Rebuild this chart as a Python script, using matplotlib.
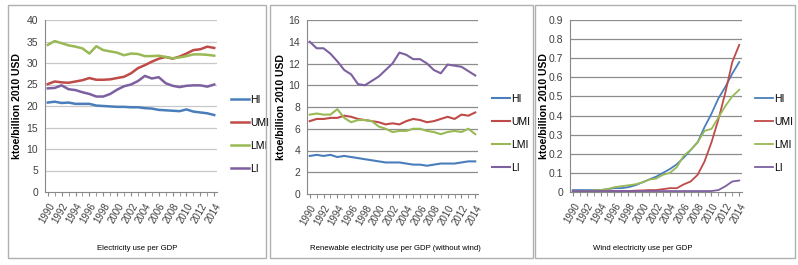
import matplotlib
matplotlib.use("Agg")
import matplotlib.pyplot as plt
from matplotlib.patches import Rectangle

plt.rcParams['font.family'] = ['Liberation Sans Narrow', 'Liberation Sans', 'DejaVu Sans']

years = list(range(1990, 2015))
labels = ["HI", "UMI", "LMI", "LI"]
colors = ["#4a7ebb", "#be4b48", "#98b954", "#7d60a0"]

# electricity use per GDP
elec_hi = [20.8, 21.0, 20.7, 20.8, 20.5, 20.5, 20.5, 20.1, 20.0, 19.9, 19.8, 19.8, 19.7, 19.7,
           19.5, 19.4, 19.1, 19.0, 18.9, 18.8, 19.2, 18.7, 18.5, 18.3, 17.9]
elec_umi = [25.1, 25.7, 25.5, 25.4, 25.7, 26.0, 26.5, 26.1, 26.1, 26.2, 26.5, 26.8, 27.6, 28.8,
            29.5, 30.3, 31.0, 31.4, 31.0, 31.5, 32.2, 33.0, 33.2, 33.8, 33.5]
elec_lmi = [34.2, 35.1, 34.6, 34.1, 33.8, 33.4, 32.2, 33.9, 33.0, 32.7, 32.4, 31.8, 32.2, 32.1,
            31.6, 31.6, 31.7, 31.4, 31.1, 31.3, 31.6, 32.0, 32.0, 31.9, 31.7]
elec_li = [24.1, 24.2, 24.8, 23.9, 23.7, 23.2, 22.8, 22.2, 22.2, 22.8, 23.8, 24.6, 25.0, 25.8,
           27.0, 26.4, 26.7, 25.3, 24.7, 24.4, 24.7, 24.8, 24.8, 24.5, 25.0]

# renewable electricity use per GDP (without wind)
ren_hi = [3.5, 3.6, 3.5, 3.6, 3.4, 3.5, 3.4, 3.3, 3.2, 3.1, 3.0, 2.9, 2.9, 2.9, 2.8, 2.7, 2.7,
          2.6, 2.7, 2.8, 2.8, 2.8, 2.9, 3.0, 3.0]
ren_umi = [6.7, 6.9, 6.9, 7.0, 7.0, 7.2, 7.1, 6.9, 6.8, 6.7, 6.6, 6.4, 6.5, 6.4, 6.7, 6.9, 6.8,
           6.6, 6.7, 6.9, 7.1, 6.9, 7.3, 7.2, 7.5]
ren_lmi = [7.3, 7.4, 7.3, 7.3, 7.8, 7.0, 6.6, 6.8, 6.8, 6.7, 6.2, 6.0, 5.7, 5.8, 5.8, 6.0, 6.0,
           5.8, 5.7, 5.5, 5.7, 5.8, 5.7, 6.0, 5.5]
ren_li = [14.0, 13.4, 13.4, 12.9, 12.2, 11.4, 11.0, 10.1, 10.0, 10.4, 10.8, 11.4, 12.0, 13.0,
          12.8, 12.4, 12.4, 12.0, 11.4, 11.1, 11.9, 11.8, 11.7, 11.3, 10.9]

# wind electricity use per GDP
wind_hi = [0.01, 0.01, 0.01, 0.01, 0.01, 0.015, 0.02, 0.02, 0.025, 0.035, 0.05, 0.065, 0.08,
           0.10, 0.12, 0.145, 0.18, 0.22, 0.26, 0.34, 0.41, 0.49, 0.55, 0.62, 0.68]
wind_umi = [0.005, 0.005, 0.005, 0.005, 0.005, 0.005, 0.005, 0.005, 0.005, 0.007, 0.008, 0.01,
            0.01, 0.015, 0.02, 0.02, 0.04, 0.055, 0.09, 0.16, 0.26, 0.38, 0.52, 0.68, 0.77]
wind_lmi = [0.005, 0.005, 0.005, 0.008, 0.01, 0.015, 0.025, 0.03, 0.035, 0.04, 0.05, 0.065,
            0.07, 0.09, 0.10, 0.13, 0.19, 0.22, 0.26, 0.32, 0.33, 0.39, 0.45, 0.50, 0.535]
wind_li = [0.005, 0.005, 0.005, 0.005, 0.005, 0.005, 0.005, 0.005, 0.005, 0.005, 0.005, 0.005,
           0.005, 0.005, 0.005, 0.005, 0.005, 0.005, 0.005, 0.005, 0.005, 0.01, 0.03, 0.055, 0.06]

W, H = 798, 265
fig = plt.figure(figsize=(W / 100, H / 100), dpi=100)


def px_axes(l, r, t, b):
    return fig.add_axes([l / W, 1 - b / H, (r - l) / W, (b - t) / H])


panels = [
    dict(box=(8, 266), ax=(45, 217, 20, 192), series=[elec_hi, elec_umi, elec_lmi, elec_li],
         ylim=(0, 40), step=5, fmt="{:.0f}", grid="#c8c8c8", lw=1.8,
         title="Electricity use per GDP", tx=137, leg=(1.081, 0.334), ylx=-0.134),
    dict(box=(270, 533), ax=(307, 478, 20, 194), series=[ren_hi, ren_umi, ren_lmi, ren_li],
         ylim=(0, 16), step=2, fmt="{:.0f}", grid="#8c8c8c", lw=1.5,
         title="Renewable electricity use per GDP (without wind)", tx=395, leg=(1.082, 0.35),
         ylx=-0.123),
    dict(box=(535, 795), ax=(570, 742, 20, 192), series=[wind_hi, wind_umi, wind_lmi, wind_li],
         ylim=(0, 0.9), step=0.1, fmt="{:g}", grid="#8c8c8c", lw=1.3,
         title="Wind electricity use per GDP", tx=643, leg=(1.076, 0.34), ylx=-0.122),
]

for p in panels:
    x0, x1 = p["box"]
    fig.patches.append(Rectangle((x0 / W, 1 - 258 / H), (x1 - x0) / W, 253 / H,
                                 transform=fig.transFigure, fill=False,
                                 edgecolor="#b0b0b0", linewidth=1.0))
    l, r, t, b = p["ax"]
    ax = px_axes(l, r, t, b)
    for s, c, lab in zip(p["series"], colors, labels):
        ax.plot(years, s, color=c, lw=p["lw"], label=lab)
    lo, hi = p["ylim"]
    ticks = [round(lo + i * p["step"], 3) for i in range(int(round((hi - lo) / p["step"])) + 1)]
    ax.set_ylim(lo, hi)
    ax.set_yticks(ticks)
    ax.set_yticklabels([p["fmt"].format(v) for v in ticks], fontsize=7.5, color="#404040")
    for v in ticks[1:]:
        ax.axhline(v, color=p["grid"], lw=0.9, zorder=0)
    ax.set_xlim(1989.6, 2014.4)
    ax.set_xticks(years, minor=True)
    ax.set_xticks(years[::2])
    ax.set_xticklabels([str(y) for y in years[::2]], rotation=60, fontsize=7,
                       color="#404040", ha="right", rotation_mode="anchor")
    ax.tick_params(axis="x", which="both", length=3, color="#888888", direction="out")
    ax.tick_params(axis="y", length=0, pad=5)
    for side in ["top", "right"]:
        ax.spines[side].set_visible(False)
    ax.spines["bottom"].set_color("#888888")
    ax.spines["left"].set_color("#888888")
    ax.set_ylabel("ktoe/billion 2010 USD", fontsize=7.5, fontweight="bold",
                  family=["Liberation Sans", "DejaVu Sans"])
    ax.yaxis.set_label_coords(p["ylx"], 0.5)
    ax.legend(loc="center left", bbox_to_anchor=p["leg"], frameon=False, borderpad=0,
              borderaxespad=0, fontsize=7.5, handlelength=1.7, labelspacing=1.25,
              handletextpad=0.15)
    fig.text(p["tx"] / W, 1 - 248 / H, p["title"], fontsize=5.6, ha="center", va="center")

fig.savefig("out.png", dpi=100, facecolor="white")
